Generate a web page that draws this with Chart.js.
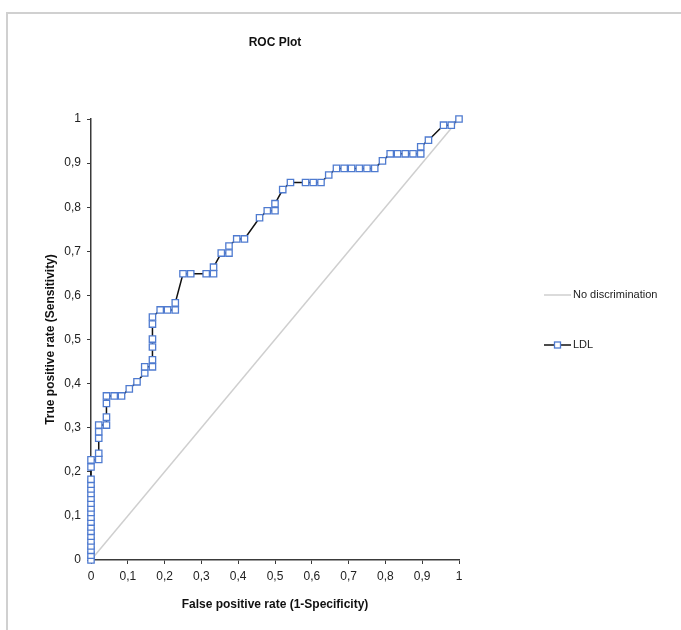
<!DOCTYPE html>
<html>
<head>
<meta charset="utf-8">
<script src="https://cdn.jsdelivr.net/npm/chart.js@4.4.1/dist/chart.umd.min.js"></script>
<style>
  html, body { margin: 0; padding: 0; background: #fff; }
  #wrap { position: relative; width: 681px; height: 630px; }
  #frame { position: absolute; left: 6px; top: 12px; right: 0; bottom: 0;
           border-left: 2px solid #d0d0d0; border-top: 2px solid #d0d0d0; }
  canvas { position: absolute; left: 0; top: 0; }
</style>
</head>
<body>
<div id="wrap">
  <div id="frame"></div>
  <canvas id="roc" width="681" height="630"></canvas>
</div>
<script>
// ROC points for LDL
const fprLDL = [0,0,0,0,0,0,0,0,0,0,0,0,0,0,0,0,0,0,0,0,
  0.021,0.021,0.021,0.021,0.021,
  0.042,0.042,0.042,0.042,
  0.063,0.083,0.104,0.125,
  0.146,0.146,
  0.167,0.167,0.167,0.167,0.167,0.167,
  0.188,0.208,0.229,0.229,
  0.25,0.271,0.313,0.333,0.333,
  0.354,0.375,0.375,
  0.396,0.417,
  0.458,0.479,
  0.5,0.5,
  0.521,0.542,
  0.583,0.604,0.625,
  0.646,
  0.667,0.688,0.708,0.729,0.75,0.771,
  0.792,
  0.813,0.833,0.854,0.875,0.896,
  0.896,0.917,
  0.958,0.979,1];
const tprLDL = [0,0.011,0.022,0.032,0.043,0.054,0.065,0.075,0.086,0.097,0.108,0.118,0.129,0.14,0.151,0.161,0.172,0.183,0.211,0.227,
  0.228,0.242,0.276,0.291,0.306,
  0.306,0.324,0.355,0.372,
  0.372,0.372,0.388,0.404,
  0.424,0.438,
  0.438,0.454,0.483,0.501,0.535,0.551,
  0.567,0.567,0.567,0.583,
  0.649,0.649,0.649,0.649,0.664,
  0.696,0.696,0.712,
  0.728,0.728,
  0.776,0.792,
  0.792,0.808,
  0.84,0.856,
  0.856,0.856,0.856,
  0.873,
  0.888,0.888,0.888,0.888,0.888,0.888,
  0.905,
  0.921,0.921,0.921,0.921,0.921,
  0.937,0.952,
  0.986,0.986,1];
const diagX = [0, 1];
const diagY = [0, 1];
const seriesNames = ['No discrimination', 'LDL'];

const fontFam = "'Liberation Sans', Arial, sans-serif";

function toPoints(xs, ys) {
  return xs.map((x, i) => ({x: x, y: ys[i]}));
}

function fmtTick(v) {
  if (Math.abs(v) < 1e-9) return '0';
  if (Math.abs(v - 1) < 1e-9) return '1';
  return v.toFixed(1).replace('.', ',');
}

// legend drawn at fixed spot on the right, like the original
const sideLegend = {
  id: 'sideLegend',
  afterDraw(chart) {
    const ctx = chart.ctx;
    const rows = [295, 345];
    ctx.save();
    chart.data.datasets.forEach((ds, i) => {
      const y = rows[i];
      ctx.strokeStyle = ds.borderColor;
      ctx.lineWidth = ds.borderWidth;
      ctx.beginPath();
      ctx.moveTo(544, y);
      ctx.lineTo(571, y);
      ctx.stroke();
      if (ds.pointRadius > 0) {
        ctx.fillStyle = ds.pointBackgroundColor;
        ctx.strokeStyle = ds.pointBorderColor;
        ctx.lineWidth = ds.pointBorderWidth;
        ctx.fillRect(554.5, y - 3, 6, 6);
        ctx.strokeRect(554.5, y - 3, 6, 6);
      }
      ctx.fillStyle = '#222';
      ctx.font = '11px ' + fontFam;
      ctx.textBaseline = 'middle';
      ctx.fillText(ds.label, 573, y);
    });
    ctx.restore();
  }
};

new Chart(document.getElementById('roc'), {
  type: 'scatter',
  data: {
    datasets: [{
      label: seriesNames[0],
      data: toPoints(diagX, diagY),
      showLine: true,
      borderColor: '#cfcfcf',
      borderWidth: 1.5,
      pointRadius: 0,
      clip: false,
      order: 2
    }, {
      label: seriesNames[1],
      data: toPoints(fprLDL, tprLDL),
      showLine: true,
      borderColor: '#111',
      borderWidth: 1.5,
      pointStyle: 'rect',
      pointRadius: 4.5,
      pointBackgroundColor: '#fff',
      pointBorderColor: '#4f7bd0',
      pointBorderWidth: 1.3,
      clip: false,
      order: 1
    }]
  },
  options: {
    responsive: false,
    animation: false,
    events: [],
    layout: { autoPadding: false, padding: { left: 0, right: 222, top: 30, bottom: 0 } },
    plugins: {
      legend: { display: false },
      tooltip: { enabled: false },
      title: {
        display: true,
        text: 'ROC Plot',
        fullSize: false,
        color: '#111',
        font: { family: fontFam, size: 12, weight: 'bold' },
        padding: { top: 5, bottom: 69.6 }
      }
    },
    scales: {
      x: {
        type: 'linear', min: 0, max: 1,
        afterFit(s) { s.height = 70; },
        border: { display: true, color: '#3a3a3a', width: 1.5 },
        grid: { display: true, drawOnChartArea: false, drawTicks: true, tickLength: 4, color: '#3a3a3a', lineWidth: 1 },
        ticks: { stepSize: 0.1, callback: fmtTick, color: '#222', padding: 5, maxRotation: 0,
                 font: { family: fontFam, size: 12 } },
        title: { display: true, text: 'False positive rate (1-Specificity)', color: '#111',
                 font: { family: fontFam, size: 12, weight: 'bold' }, padding: { top: 0, bottom: 18 } }
      },
      y: {
        type: 'linear', min: 0, max: 1,
        afterFit(s) { s.width = 91; },
        border: { display: true, color: '#3a3a3a', width: 1.5 },
        grid: { display: true, drawOnChartArea: false, drawTicks: true, tickLength: 4, color: '#3a3a3a', lineWidth: 1 },
        ticks: { stepSize: 0.1, callback: fmtTick, color: '#222', padding: 6,
                 font: { family: fontFam, size: 12 } },
        title: { display: true, text: 'True positive rate (Sensitivity)', color: '#111',
                 font: { family: fontFam, size: 12, weight: 'bold' }, padding: { top: 43, bottom: 0 } }
      }
    }
  },
  plugins: [sideLegend]
});
</script>
</body>
</html>
